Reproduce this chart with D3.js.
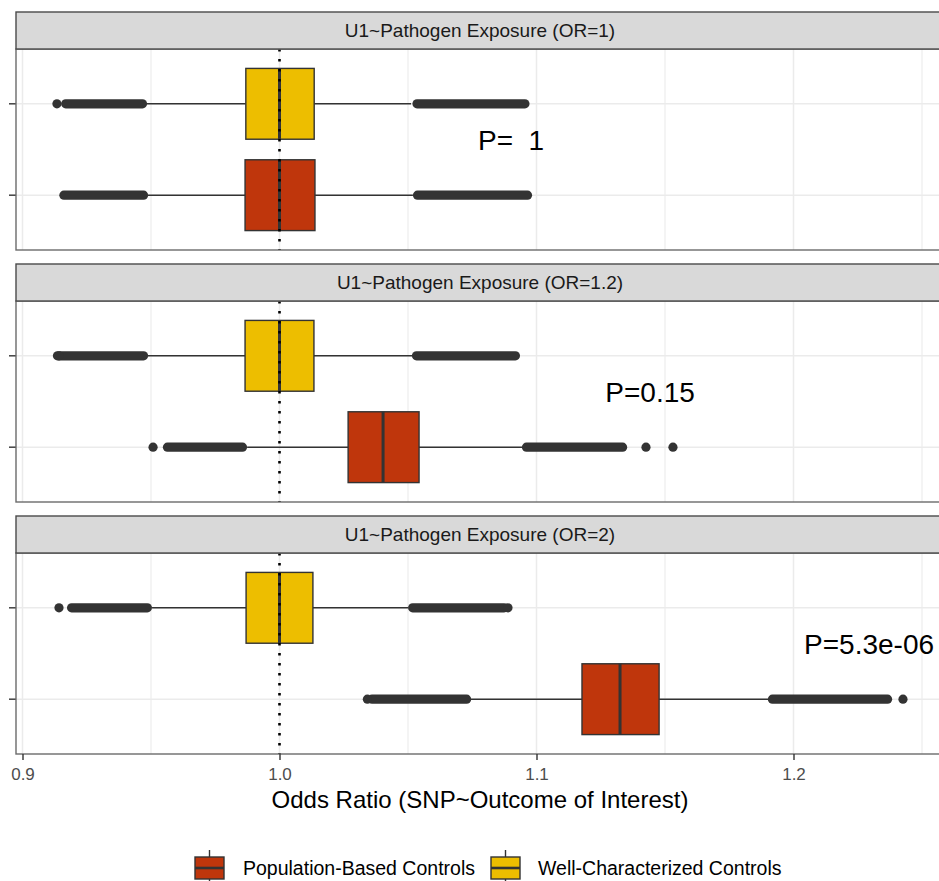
<!DOCTYPE html>
<html><head><meta charset="utf-8">
<script src="https://cdn.jsdelivr.net/npm/d3@7"></script>
<style>body{margin:0;background:#fff} svg{display:block}</style>
</head><body><svg id="c" width="939" height="881"></svg>
<script>
// ---------- data ----------
const facets = ["U1~Pathogen Exposure (OR=1)", "U1~Pathogen Exposure (OR=1.2)", "U1~Pathogen Exposure (OR=2)"];
const groups = ["Population-Based Controls", "Well-Characterized Controls"]; // level 1 (bottom), level 2 (top)
const groupColors = ["#BF360C", "#EDBE00"];
const xTicks = [0.9, 1.0, 1.1, 1.2];
const xMinorTicks = [0.95, 1.05, 1.15, 1.25];
const refLine = 1.0;
// box statistics, per facet: [Population-Based, Well-Characterized]
const q1        = [[0.9866, 0.9869], [1.0267, 0.9866], [1.1177, 0.9870]];
const median    = [[1.0000, 1.0000], [1.0403, 1.0000], [1.1325, 1.0000]];
const q3        = [[1.0138, 1.0135], [1.0543, 1.0134], [1.1477, 1.0130]];
const whiskerLo = [[0.9488, 0.9484], [0.9874, 0.9488], [1.0745, 0.9504]];
const whiskerHi = [[1.0519, 1.0512], [1.0944, 1.0516], [1.1901, 1.0500]];
// dense stretches of outliers (overlapping points), [first, last]
const outlierRuns = [
  [[[0.9161, 0.9471], [1.0537, 1.0965]], [[0.9168, 0.9467], [1.0535, 1.0955]]],
  [[[0.9564, 0.9856], [1.0961, 1.1335]], [[0.9136, 0.9471], [1.0533, 1.0918]]],
  [[[1.0360, 1.0728], [1.1918, 1.2366]], [[0.9191, 0.9486], [1.0518, 1.0874]]]
];
// isolated outliers
const outlierPoints = [
  [[], [0.9134]],
  [[0.9508, 1.1426, 1.1531], [0.9142]],
  [[1.0342, 1.2426], [0.9142, 1.0889]]
];
const pLabels = ["P=  1", "P=0.15", "P=5.3e-06"];
const pLabelX = [1.0901, 1.1442, 1.2294];
const pLabelY = 1.6;
const xTitle = "Odds Ratio (SNP~Outcome of Interest)";

// ---------- layout ----------
const svg = d3.select("#c");
const FONT = "'Liberation Sans', Arial, Helvetica, sans-serif";
const panelL = 16, panelR = 944;
const stripH = 37, panelH = 201, gap = 14, top0 = 12;
const x = d3.scaleLinear().domain([0.9, 1.2]).range([22.5, 793.5]);
const boxFrac = 0.775;
const ptR = 4.6;
const dark = "#333333";

facets.forEach((f, i) => {
  const sy = top0 + i * (stripH + panelH + gap);
  const py = sy + stripH;
  const y = d3.scaleLinear().domain([0.4, 2.6]).range([py + panelH, py]);
  const g = svg.append("g");

  // panel background + grid
  g.append("rect").attr("x", panelL).attr("y", py).attr("width", panelR - panelL).attr("height", panelH).attr("fill", "#fff");
  g.selectAll(".minor").data(xMinorTicks).join("line")
    .attr("x1", d => x(d)).attr("x2", d => x(d)).attr("y1", py).attr("y2", py + panelH)
    .attr("stroke", "#EBEBEB").attr("stroke-width", 1.1);
  g.selectAll(".major").data(xTicks).join("line")
    .attr("x1", d => x(d)).attr("x2", d => x(d)).attr("y1", py).attr("y2", py + panelH)
    .attr("stroke", "#EBEBEB").attr("stroke-width", 1.5);
  g.selectAll(".hgrid").data([1, 2]).join("line")
    .attr("x1", panelL).attr("x2", panelR).attr("y1", d => y(d)).attr("y2", d => y(d))
    .attr("stroke", "#EBEBEB").attr("stroke-width", 1.5);

  const bh = (y(1) - y(2)) * boxFrac;
  groups.forEach((gr, k) => {
    const cy = y(k + 1);
    // whiskers
    g.append("line").attr("x1", x(whiskerLo[i][k])).attr("x2", x(q1[i][k])).attr("y1", cy).attr("y2", cy)
      .attr("stroke", dark).attr("stroke-width", 1.6);
    g.append("line").attr("x1", x(q3[i][k])).attr("x2", x(whiskerHi[i][k])).attr("y1", cy).attr("y2", cy)
      .attr("stroke", dark).attr("stroke-width", 1.6);
    // outliers
    g.selectAll(null).data(outlierRuns[i][k]).join("line")
      .attr("x1", d => x(d[0])).attr("x2", d => x(d[1])).attr("y1", cy).attr("y2", cy)
      .attr("stroke", dark).attr("stroke-width", ptR * 2).attr("stroke-linecap", "round");
    g.selectAll(null).data(outlierPoints[i][k]).join("circle")
      .attr("cx", d => x(d)).attr("cy", cy).attr("r", ptR).attr("fill", dark);
    // box
    g.append("rect").attr("x", x(q1[i][k])).attr("y", cy - bh / 2)
      .attr("width", x(q3[i][k]) - x(q1[i][k])).attr("height", bh)
      .attr("fill", groupColors[k]).attr("stroke", dark).attr("stroke-width", 1.4);
    g.append("line").attr("x1", x(median[i][k])).attr("x2", x(median[i][k]))
      .attr("y1", cy - bh / 2).attr("y2", cy + bh / 2)
      .attr("stroke", dark).attr("stroke-width", 3);
    // y tick
    g.append("line").attr("x1", panelL - 7).attr("x2", panelL).attr("y1", cy).attr("y2", cy)
      .attr("stroke", dark).attr("stroke-width", 1.4);
  });

  // reference dotted line
  g.append("line").attr("x1", x(refLine)).attr("x2", x(refLine)).attr("y1", py).attr("y2", py + panelH)
    .attr("stroke", "#000").attr("stroke-width", 2.6).attr("stroke-dasharray", "2.6 7.4");

  // p label
  g.append("text").attr("x", x(pLabelX[i])).attr("y", y(pLabelY)).attr("dy", "0.36em")
    .attr("text-anchor", "middle").attr("font-family", FONT).attr("font-size", 28).attr("fill", "#000")
    .attr("xml:space", "preserve").style("white-space", "pre").text(pLabels[i]);

  // panel border
  g.append("rect").attr("x", panelL).attr("y", py).attr("width", panelR - panelL).attr("height", panelH)
    .attr("fill", "none").attr("stroke", "#6b6b6b").attr("stroke-width", 1.4);

  // strip
  g.append("rect").attr("x", panelL).attr("y", sy).attr("width", panelR - panelL).attr("height", stripH)
    .attr("fill", "#D9D9D9").attr("stroke", "#4a4a4a").attr("stroke-width", 1.4);
  g.append("text").attr("x", (panelL + panelR) / 2).attr("y", sy + stripH / 2).attr("dy", "0.36em")
    .attr("text-anchor", "middle").attr("font-family", FONT).attr("font-size", 19).attr("fill", "#1A1A1A")
    .text(f);

  if (i === facets.length - 1) {
    const ax = svg.append("g").attr("transform", `translate(0,${py + panelH})`)
      .call(d3.axisBottom(x).tickValues(xTicks).tickFormat(d3.format(".1f")).tickSize(6).tickPadding(8));
    ax.select(".domain").remove();
    ax.selectAll(".tick line").attr("stroke", dark).attr("stroke-width", 1.4);
    ax.selectAll(".tick text").attr("font-family", FONT).attr("font-size", 17).attr("fill", "#4D4D4D");
    svg.append("text").attr("x", (panelL + panelR) / 2).attr("y", py + panelH + 54)
      .attr("text-anchor", "middle").attr("font-family", FONT).attr("font-size", 24).attr("fill", "#000")
      .text(xTitle);
  }
});

// ---------- legend ----------
const legendY = 868;
const legendItems = [{ k: 0, x: 195, tx: 243 }, { k: 1, x: 491, tx: 538 }];
legendItems.forEach(it => {
  const lg = svg.append("g");
  const kw = 29, kh = 22;
  lg.append("line").attr("x1", it.x + kw / 2).attr("x2", it.x + kw / 2)
    .attr("y1", legendY - kh / 2 - 7).attr("y2", legendY + kh / 2 + 7)
    .attr("stroke", dark).attr("stroke-width", 1.4);
  lg.append("rect").attr("x", it.x).attr("y", legendY - kh / 2).attr("width", kw).attr("height", kh)
    .attr("fill", groupColors[it.k]).attr("stroke", dark).attr("stroke-width", 1.4);
  lg.append("line").attr("x1", it.x).attr("x2", it.x + kw).attr("y1", legendY).attr("y2", legendY)
    .attr("stroke", dark).attr("stroke-width", 2.6);
  lg.append("text").attr("x", it.tx).attr("y", legendY).attr("dy", "0.36em")
    .attr("font-family", FONT).attr("font-size", 19.5).attr("fill", "#000")
    .text(groups[it.k]);
});
</script>
</body></html>
